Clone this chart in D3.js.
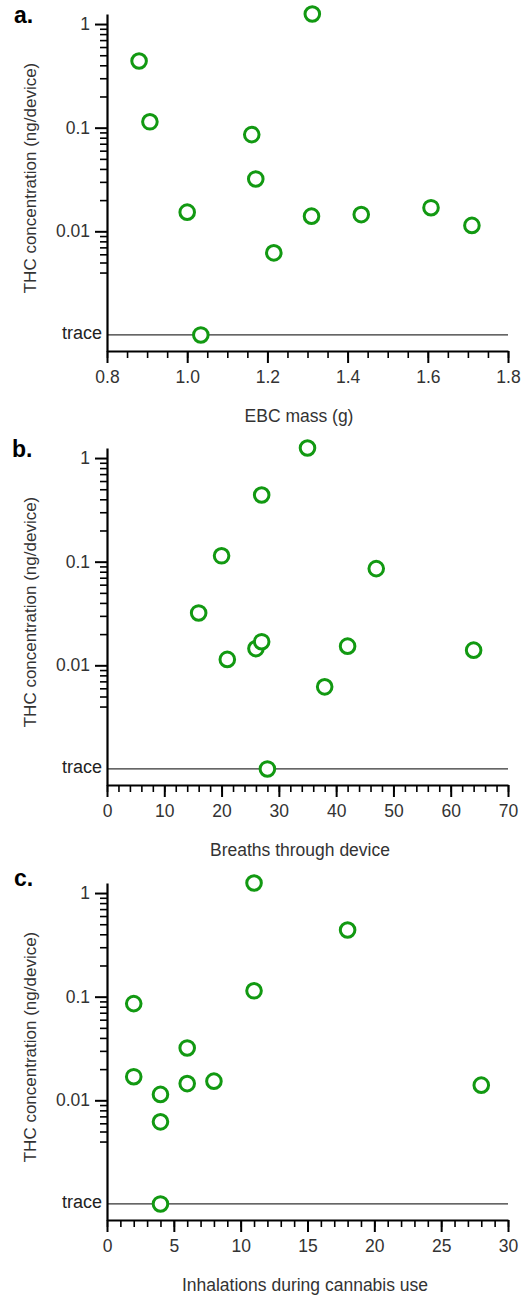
<!DOCTYPE html>
<html>
<head>
<meta charset="utf-8">
<script src="https://cdn.jsdelivr.net/npm/d3@7"></script>
<style>
  body { margin: 0; background: #fff; }
  svg { display: block; font-family: "Liberation Sans", Arial, sans-serif; }
  .axis path, .axis line { stroke: #000; }
  .axis text { fill: #333; font-size: 17.5px; }
  .title { fill: #333; font-size: 17.5px; }
  .panel-label { fill: #000; font-size: 23px; font-weight: bold; }
</style>
</head>
<body>
<div id="chart"></div>
<script>
// THC per sample (null = trace)
const thc = [1.25, 0.44, 0.114, 0.0857, 0.032, 0.0153, 0.0062, 0.0140, 0.0145, 0.0169, 0.0114, null];
const ebcMass = [1.312, 0.88, 0.907, 1.161, 1.171, 1.0, 1.216, 1.31, 1.434, 1.608, 1.71, 1.034];
const breaths = [35, 27, 20, 47, 16, 42, 38, 64, 26, 27, 21, 28];
const inhalations = [11, 18, 11, 2, 6, 8, 4, 28, 6, 2, 4, 4];

const traceLevel = 0.001;
const yMajorTicks = [1, 0.1, 0.01];
const yMinorTicks = [0.9, 0.8, 0.7, 0.6, 0.5, 0.4, 0.3, 0.2,
  0.09, 0.08, 0.07, 0.06, 0.05, 0.04, 0.03, 0.02,
  0.009, 0.008, 0.007, 0.006, 0.005, 0.004];

const xTicksA = [0.8, 1.0, 1.2, 1.4, 1.6, 1.8];
const xTicksB = [0, 10, 20, 30, 40, 50, 60, 70];
const xTicksC = [0, 5, 10, 15, 20, 25, 30];

const panels = [
  { label: "a.", xs: ebcMass, domain: [0.8, 1.8], ticks: xTicksA, minor: 0.05, fmt: d3.format(".1f"),
    title: "EBC mass (g)", top: 0, titleX: 299, labelX: 14, labelY: 23 },
  { label: "b.", xs: breaths, domain: [0, 70], ticks: xTicksB, minor: 2, fmt: d3.format("d"),
    title: "Breaths through device", top: 434, titleX: 300, labelX: 12, labelY: 23 },
  { label: "c.", xs: inhalations, domain: [0, 30], ticks: xTicksC, minor: 1, fmt: d3.format("d"),
    title: "Inhalations during cannabis use", top: 869, titleX: 305, labelX: 14, labelY: 17 }
];

const width = 524;
const height = 1295;
const left = 107, right = 508, plotTop = 14, plotBottom = 351;

const svg = d3.select("#chart")
  .append("svg")
  .attr("width", width)
  .attr("height", height);

const y = d3.scaleLog()
  .domain([0.0007, 1.25])
  .range([plotBottom, plotTop]);

panels.forEach(p => {
  const g = svg.append("g").attr("transform", `translate(0,${p.top})`);

  const x = d3.scaleLinear().domain(p.domain).range([left, right]);

  // trace line
  g.append("line")
    .attr("x1", left).attr("x2", right)
    .attr("y1", y(traceLevel)).attr("y2", y(traceLevel))
    .attr("stroke", "#333")
    .attr("stroke-width", 1.2);

  g.append("text")
    .attr("x", 102)
    .attr("y", y(traceLevel) + 4)
    .attr("text-anchor", "end")
    .attr("fill", "#222")
    .style("font-size", "18px")
    .text("trace");

  // x axis minor
  const minorX = d3.range(p.domain[0], p.domain[1] + p.minor / 2, p.minor);
  g.append("g")
    .attr("class", "axis")
    .attr("transform", `translate(0,${plotBottom})`)
    .call(d3.axisBottom(x).tickValues(minorX).tickSize(7).tickFormat(""))
    .call(s => s.select(".domain").remove())
    .selectAll("line").attr("stroke-width", 1.6);

  // x axis major
  g.append("g")
    .attr("class", "axis")
    .attr("transform", `translate(0,${plotBottom})`)
    .call(d3.axisBottom(x).tickValues(p.ticks).tickSize(12).tickSizeOuter(0).tickPadding(8).tickFormat(p.fmt))
    .call(s => s.select(".domain").attr("stroke-width", 2.2))
    .call(s => s.selectAll("line").attr("stroke-width", 2));

  // y axis minor
  g.append("g")
    .attr("class", "axis")
    .attr("transform", `translate(${left},0)`)
    .call(d3.axisLeft(y).tickValues(yMinorTicks).tickSize(7).tickFormat(""))
    .call(s => s.select(".domain").remove())
    .selectAll("line").attr("stroke-width", 1.6);

  // y axis major
  g.append("g")
    .attr("class", "axis")
    .attr("transform", `translate(${left},0)`)
    .call(d3.axisLeft(y).tickValues(yMajorTicks).tickSize(12).tickSizeOuter(0).tickPadding(5).tickFormat(d => String(d)))
    .call(s => s.select(".domain").attr("stroke-width", 2.2))
    .call(s => s.selectAll("line").attr("stroke-width", 2));

  // points
  g.selectAll("circle")
    .data(thc.map((v, i) => ({ x: p.xs[i], y: v === null ? traceLevel : v })))
    .join("circle")
    .attr("cx", d => x(d.x))
    .attr("cy", d => y(d.y))
    .attr("r", 7.3)
    .attr("fill", "#fff")
    .attr("stroke", "#129912")
    .attr("stroke-width", 3);

  g.append("text")
    .attr("class", "title")
    .attr("x", p.titleX)
    .attr("y", 422)
    .attr("text-anchor", "middle")
    .text(p.title);

  g.append("text")
    .attr("class", "title")
    .attr("transform", "rotate(-90)")
    .attr("x", -178)
    .attr("y", 36)
    .attr("text-anchor", "middle")
    .style("font-size", "17px")
    .text("THC concentration (ng/device)");

  g.append("text")
    .attr("class", "panel-label")
    .attr("x", p.labelX)
    .attr("y", p.labelY)
    .text(p.label);
});
</script>
</body>
</html>
